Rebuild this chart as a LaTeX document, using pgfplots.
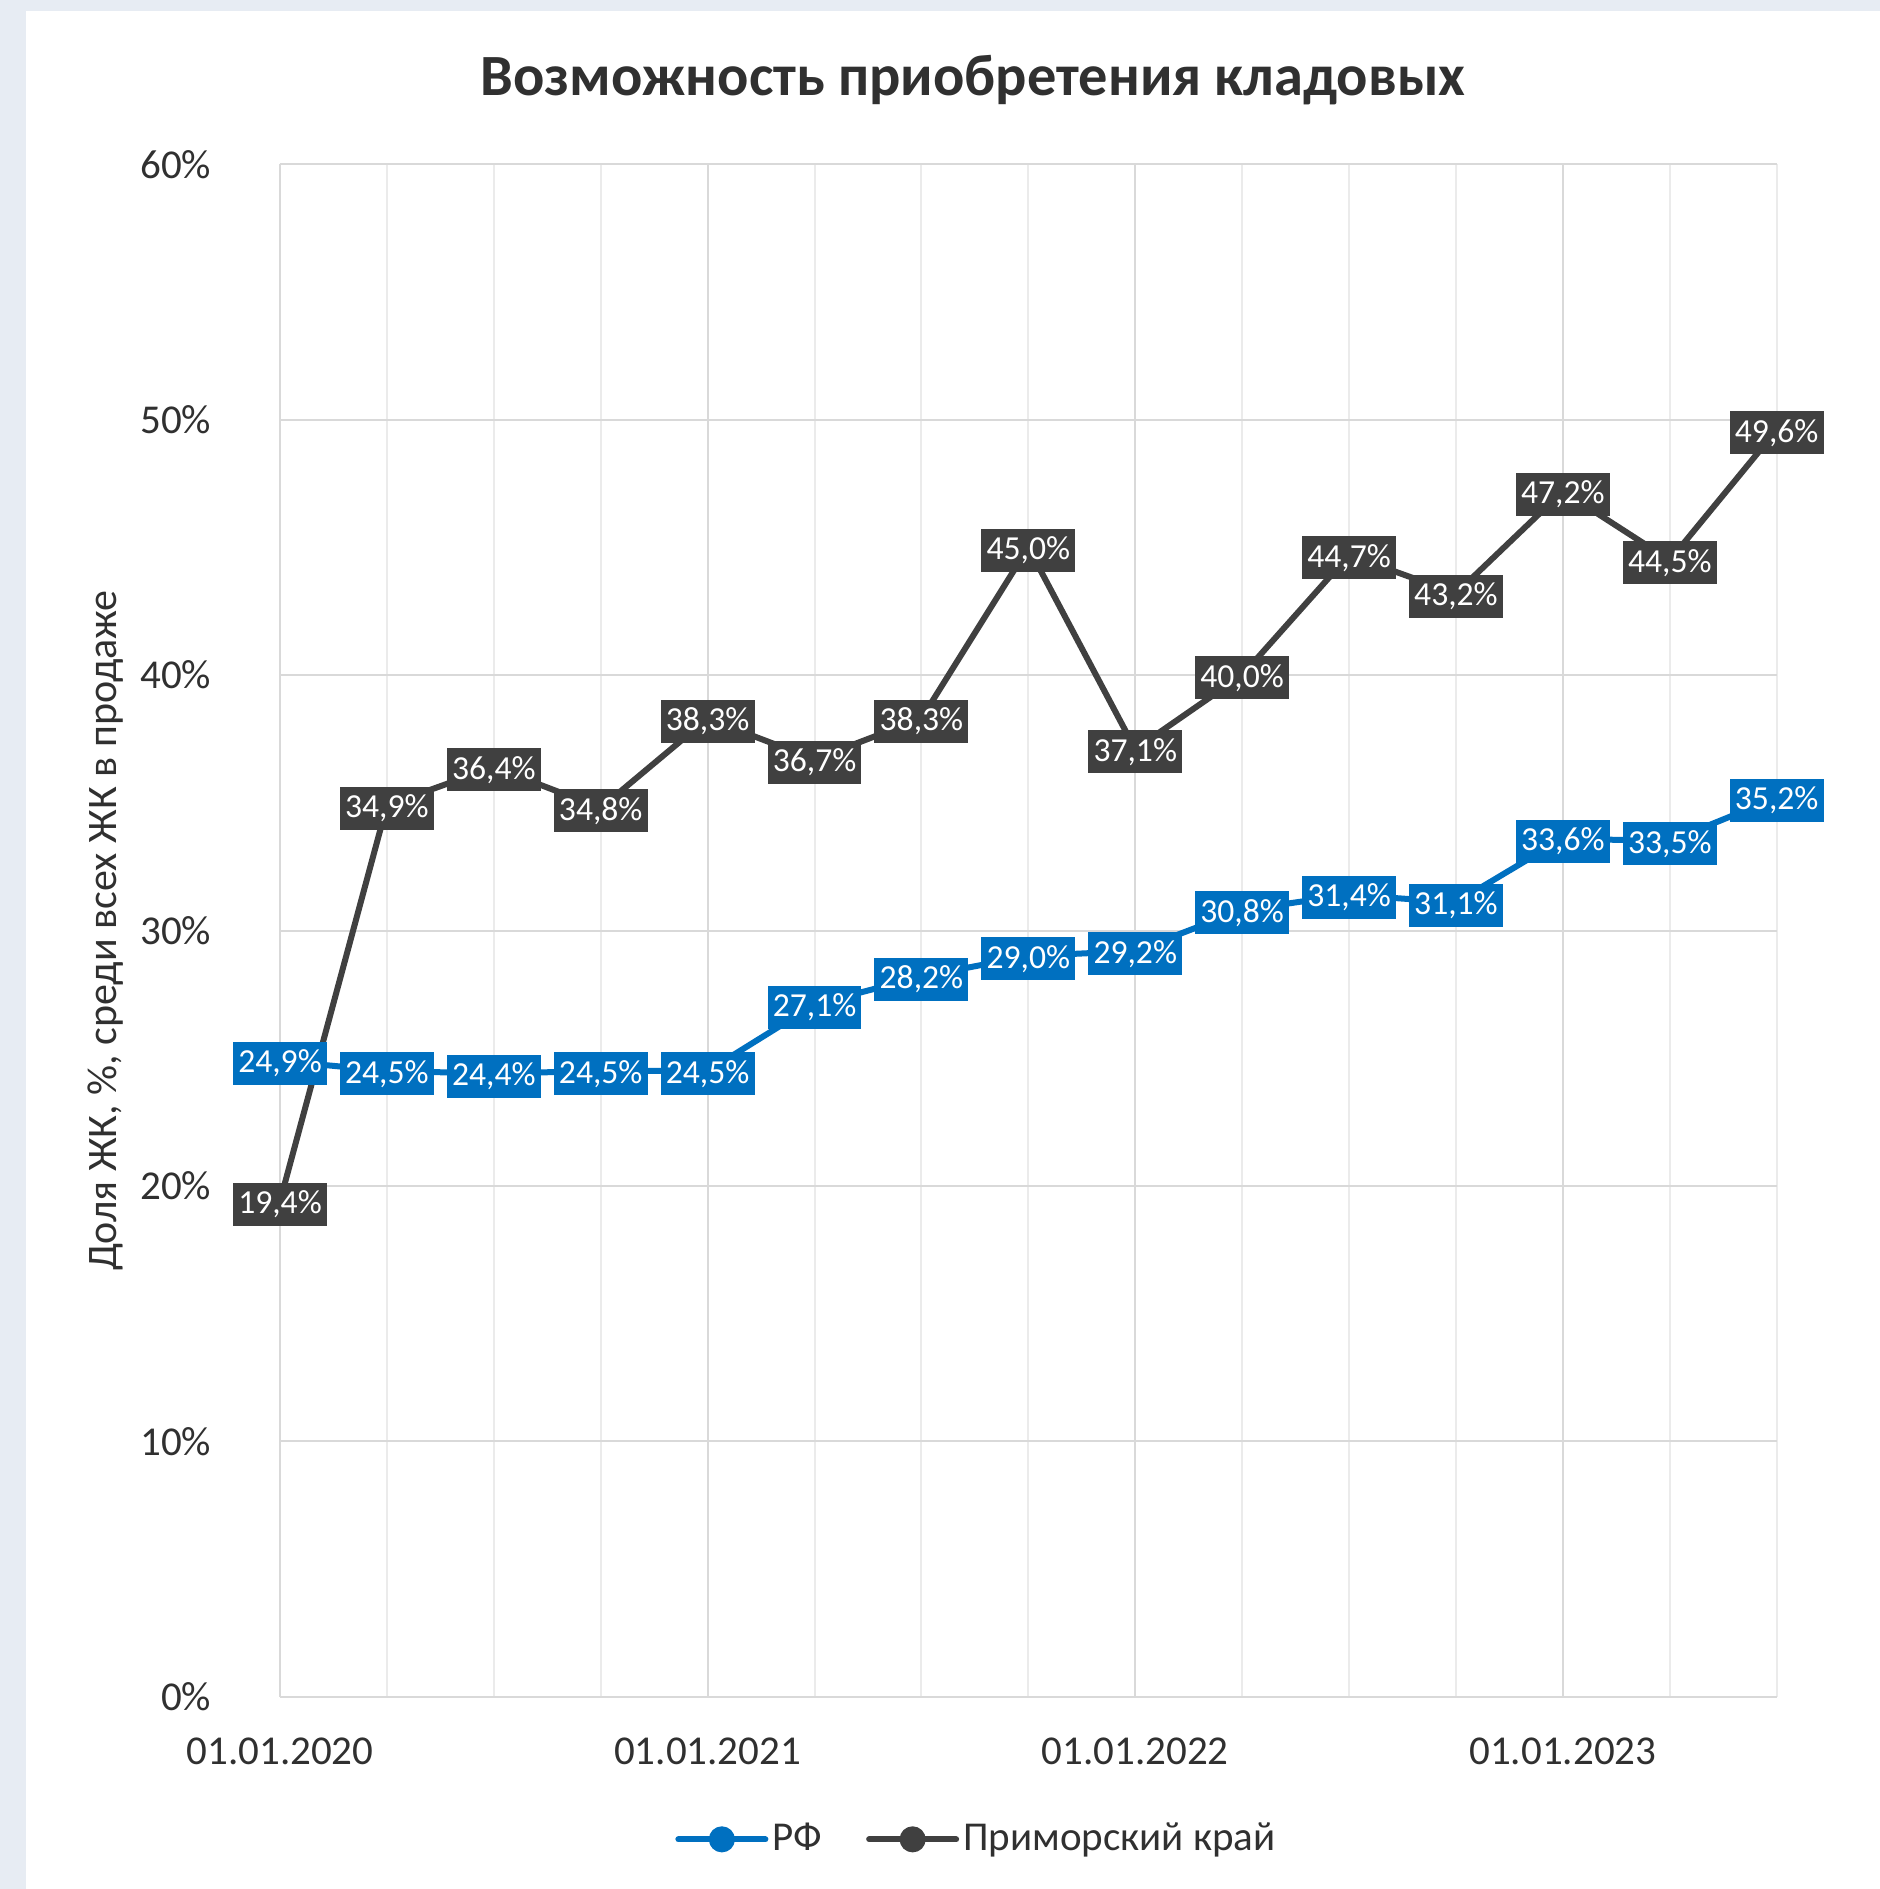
\documentclass[border=0pt]{standalone}
\usepackage{fontspec}
\setmainfont{Carlito}
\usepackage{pgfplots}
\usepackage{pgfplotstable}
\pgfplotsset{compat=1.18}
\definecolor{rfblue}{HTML}{0070C0}
\definecolor{prgray}{HTML}{404040}
\definecolor{bgband}{HTML}{E7ECF3}
\definecolor{gridmaj}{HTML}{D9D9D9}
\definecolor{gridmin}{HTML}{EBEBEB}
\definecolor{txt}{HTML}{303030}

\pgfplotstableread{
x rf pk
0 24.9 19.4
1 24.5 34.9
2 24.4 36.4
3 24.5 34.8
4 24.5 38.3
5 27.1 36.7
6 28.2 38.3
7 29.0 45.0
8 29.2 37.1
9 30.8 40.0
10 31.4 44.7
11 31.1 43.2
12 33.6 47.2
13 33.5 44.5
14 35.2 49.6
}\datatable

\begin{document}
\begin{tikzpicture}
\path[use as bounding box] (0,0) rectangle (470pt,472.25pt);
\fill[bgband] (0,0) rectangle (470pt,472.25pt);
\fill[white] (6.5pt,0) rectangle (470pt,469.5pt);
\node[font=\fontsize{14.6pt}{17pt}\selectfont\bfseries, text=txt, anchor=base, inner sep=0pt] at (243.25pt,448.25pt) {Возможность приобретения кладовых};
\begin{axis}[
  at={(70pt,48.075pt)}, anchor=south west,
  width=374.175pt, height=383.1pt, scale only axis,
  xmin=0, xmax=14, ymin=0, ymax=60,
  xtick={0,4,8,12},
  xticklabels={01.01.2020,01.01.2021,01.01.2022,01.01.2023},
  minor xtick={1,2,3,5,6,7,9,10,11,13,14},
  ytick={0,10,20,30,40,50,60},
  yticklabels={0\%,10\%,20\%,30\%,40\%,50\%,60\%},
  xmajorgrids, xminorgrids, ymajorgrids,
  major grid style={gridmaj, line width=0.5pt},
  minor grid style={gridmin, line width=0.5pt},
  axis line style={draw=none},
  major tick length=0pt, minor tick length=0pt,
  tick label style={font=\fontsize{10.25pt}{12pt}\selectfont, text=txt, inner sep=0pt},
  xticklabel style={anchor=north, yshift=-10pt},
  yticklabel style={anchor=east, xshift=-17pt},
  ylabel={Доля ЖК, \%, среди всех ЖК в продаже},
  ylabel style={at={(axis description cs:-0.1163,0.5)}, anchor=center, font=\fontsize{10.5pt}{12pt}\selectfont, text=txt, inner sep=0pt},
  clip=false,
  nodes near coords={\pgfmathprintnumber[fixed,fixed zerofill,precision=1,use comma,assume math mode=true]{\pgfplotspointmeta}\%},
  nodes near coords align=center,
  every node near coord/.append style={anchor=center, yshift=-0.7pt, text=white, font=\fontsize{8.4pt}{10pt}\selectfont, inner xsep=1.3pt, inner ysep=0pt, minimum height=10.75pt},
  legend style={at={(axis description cs:0.466,-0.0931)}, anchor=center, draw=none, fill=none, legend columns=2, font=\fontsize{10.25pt}{12pt}\selectfont, text=txt, /tikz/every even column/.append style={column sep=10pt}, nodes={inner xsep=1pt, inner ysep=1pt}},
  legend image code/.code={\draw[mark repeat=2,mark phase=2,#1] plot coordinates {(0pt,0pt) (10.875pt,0pt) (21.75pt,0pt)};},
]
\addplot[rfblue, line width=1.5pt, line cap=round, line join=round, mark=*, mark size=2.5pt, mark options={fill=rfblue, draw=rfblue},
  every node near coord/.append style={fill=rfblue}] table[x=x, y=rf] {\datatable};
\addlegendentry{РФ}
\addplot[prgray, line width=1.5pt, line cap=round, line join=round, mark=*, mark size=2.5pt, mark options={fill=prgray, draw=prgray},
  every node near coord/.append style={fill=prgray}] table[x=x, y=pk] {\datatable};
\addlegendentry{Приморский край}
\end{axis}
\end{tikzpicture}
\end{document}
